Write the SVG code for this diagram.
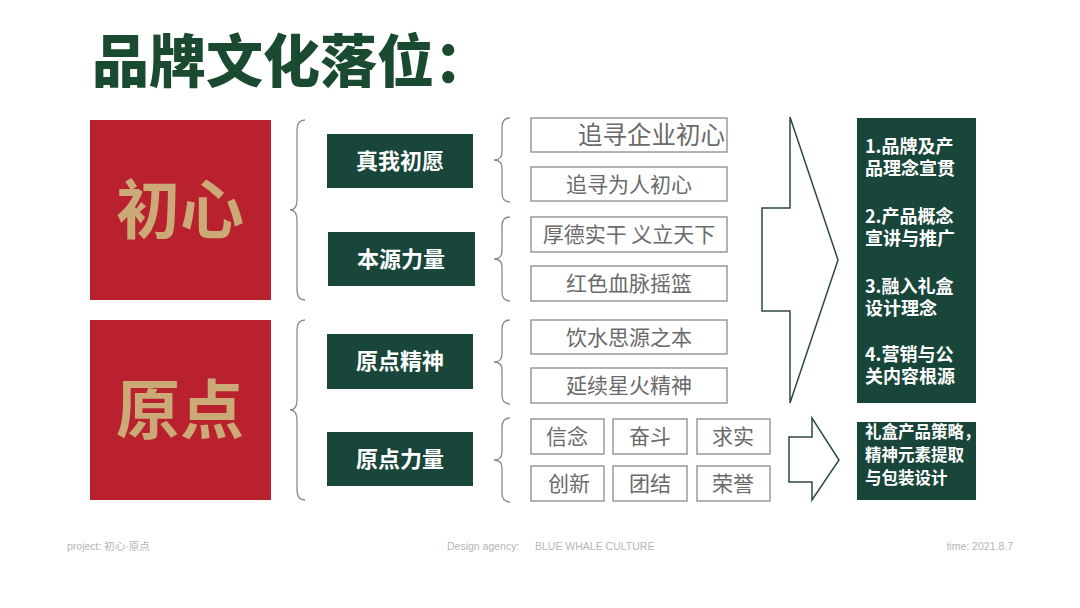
<svg xmlns="http://www.w3.org/2000/svg" width="1080" height="608" viewBox="0 0 1080 608">
<style>
.red{fill:#B8212D}
.big{font-family:"Noto Sans CJK SC","Noto Sans",sans-serif;font-weight:700;font-size:64px;fill:#CBAA78;text-anchor:middle}
.dk{fill:#18463A}
.lbl{font-family:"Noto Sans CJK SC","Noto Sans",sans-serif;font-weight:700;font-size:22px;fill:#FFFFFF;text-anchor:middle}
.box{fill:#FFFFFF;stroke:#8A8A8A;stroke-width:1.3}
.txt{font-family:"Noto Sans CJK SC","Noto Sans",sans-serif;font-size:21px;fill:#6A6A6A;text-anchor:middle}
.rt{font-family:"Noto Sans CJK SC","Noto Sans",sans-serif;font-weight:700;font-size:18px;fill:#FFFFFF}
.br{fill:none;stroke:#8A8A8A;stroke-width:1.3}
.ar{fill:#FFFFFF;stroke:#2E4A40;stroke-width:1.5;stroke-linejoin:miter}
.ft{font-family:"Liberation Sans","Noto Sans CJK SC",sans-serif;font-size:10.5px;fill:#B5B5B5}
</style>
<rect width="1080" height="608" fill="#FFFFFF"/>
<text x="92" y="82" font-family="Noto Sans CJK SC,Noto Sans,sans-serif" font-weight="900" font-size="57" fill="#1A4A2F">品牌文化落位：</text>

<g id="node-chuxin"><rect class="red" x="90" y="120" width="181" height="180"/><text class="big" x="180" y="233">初心</text></g>
<g id="node-yuandian"><rect class="red" x="90" y="320" width="181" height="180"/><text class="big" x="180" y="433">原点</text></g>

<g id="node-zhenwo"><rect class="dk" x="327" y="134" width="146" height="54"/><text class="lbl" x="400" y="169">真我初愿</text></g>
<g id="node-benyuan"><rect class="dk" x="328" y="232" width="147" height="54"/><text class="lbl" x="401" y="267">本源力量</text></g>
<g id="node-jingshen"><rect class="dk" x="327" y="334" width="146" height="55"/><text class="lbl" x="400" y="369">原点精神</text></g>
<g id="node-liliang"><rect class="dk" x="327" y="432" width="146" height="54"/><text class="lbl" x="400" y="467">原点力量</text></g>

<g id="node-t1"><rect class="box" x="531" y="118" width="196" height="34"/><text class="txt" x="725" y="144" style="text-anchor:end;font-size:24.5px">追寻企业初心</text></g>
<g id="node-t2"><rect class="box" x="531" y="167" width="196" height="34"/><text class="txt" x="629" y="192">追寻为人初心</text></g>
<g id="node-t3"><rect class="box" x="531" y="217" width="196" height="35"/><text class="txt" x="629" y="242">厚德实干 义立天下</text></g>
<g id="node-t4"><rect class="box" x="531" y="266" width="196" height="35"/><text class="txt" x="629" y="291">红色血脉摇篮</text></g>
<g id="node-t5"><rect class="box" x="531" y="320" width="196" height="34"/><text class="txt" x="629" y="345">饮水思源之本</text></g>
<g id="node-t6"><rect class="box" x="531" y="368" width="196" height="35"/><text class="txt" x="629" y="393">延续星火精神</text></g>

<g id="node-s1"><rect class="box" x="531" y="419" width="73" height="35"/><text class="txt" x="567" y="444">信念</text></g>
<g id="node-s2"><rect class="box" x="613" y="419" width="74" height="35"/><text class="txt" x="650" y="444">奋斗</text></g>
<g id="node-s3"><rect class="box" x="697" y="419" width="73" height="35"/><text class="txt" x="733" y="444">求实</text></g>
<g id="node-s4"><rect class="box" x="531" y="466" width="73" height="35"/><text class="txt" x="569" y="491">创新</text></g>
<g id="node-s5"><rect class="box" x="613" y="466" width="74" height="35"/><text class="txt" x="650" y="491">团结</text></g>
<g id="node-s6"><rect class="box" x="697" y="466" width="73" height="35"/><text class="txt" x="733" y="491">荣誉</text></g>

<g id="node-r1"><rect class="dk" x="857" y="118" width="119" height="285"/>
<text class="rt" x="865" y="153"><tspan x="865" y="153">1.品牌及产</tspan><tspan x="865" y="175">品理念宣贯</tspan></text>
<text class="rt" x="865" y="223"><tspan x="865" y="223">2.产品概念</tspan><tspan x="865" y="245">宣讲与推广</tspan></text>
<text class="rt" x="865" y="293"><tspan x="865" y="293">3.融入礼盒</tspan><tspan x="865" y="315">设计理念</tspan></text>
<text class="rt" x="865" y="361"><tspan x="865" y="361">4.营销与公</tspan><tspan x="865" y="383">关内容根源</tspan></text></g>
<g id="node-r2"><rect class="dk" x="857" y="422" width="119" height="78"/>
<text class="rt" x="865" y="438" style="font-size:16.5px"><tspan x="865" y="438">礼盒产品策略，</tspan><tspan x="865" y="461">精神元素提取</tspan><tspan x="865" y="484">与包装设计</tspan></text></g>

<g id="connectors">
<path class="br" d="M305,120 Q297,120 297,130 L297,200 Q297,210 290,210 Q297,210 297,220 L297,290 Q297,300 305,300"/>
<path class="br" d="M305,320 Q297,320 297,330 L297,400 Q297,410 290,410 Q297,410 297,420 L297,490 Q297,500 305,500"/>
<path class="br" d="M510,118 Q502,118 502,127 L502,152 Q502,160 494,160 Q502,160 502,168 L502,193 Q502,202 510,202"/>
<path class="br" d="M510,217 Q502,217 502,226 L502,251 Q502,259 494,259 Q502,259 502,267 L502,292 Q502,301 510,301"/>
<path class="br" d="M510,320 Q502,320 502,329 L502,354 Q502,362 494,362 Q502,362 502,370 L502,395 Q502,404 510,404"/>
<path class="br" d="M510,418 Q502,418 502,427 L502,452 Q502,460 494,460 Q502,460 502,468 L502,493 Q502,502 510,502"/>
<polygon class="ar" points="762,208 790,208 790,117 838,260 790,403 790,311 762,311"/>
<polygon class="ar" points="789,437 812,437 812,418 839,460 812,500 812,482 789,482"/>
</g>

<text class="ft" x="67" y="550">project: 初心·原点</text>
<text class="ft" x="447" y="550">Design agency:</text>
<text class="ft" x="535" y="550">BLUE WHALE CULTURE</text>
<text class="ft" x="1013" y="550" text-anchor="end">time: 2021.8.7</text>
</svg>
